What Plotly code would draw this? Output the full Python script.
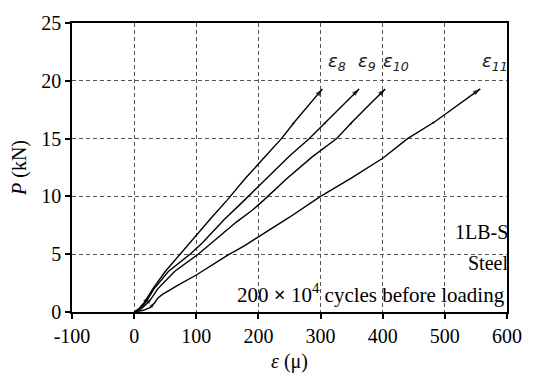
import plotly.graph_objects as go

# ---- data (strain in micro-strain, load in kN) ----
eps8_x = [0, 8, 16, 22, 30, 50, 74, 100, 125, 150, 178, 205, 237, 259, 280, 303]
eps8_y = [0, 0.3, 0.8, 1.3, 2.0, 3.5, 5.0, 6.7, 8.2, 9.7, 11.5, 13.1, 15.0, 16.5, 17.8, 19.3]

eps9_x = [0, 10, 18, 24, 32, 55, 90, 110, 145, 178, 212, 250, 282, 310, 336, 362]
eps9_y = [0, 0.3, 0.8, 1.3, 2.0, 3.5, 5.0, 6.0, 8.0, 9.7, 11.5, 13.5, 15.0, 16.5, 17.9, 19.3]

eps10_x = [0, 12, 22, 28, 38, 65, 103, 130, 165, 190, 209, 245, 286, 326, 352, 378, 404]
eps10_y = [0, 0.3, 0.8, 1.2, 2.0, 3.5, 5.0, 6.2, 7.8, 8.8, 9.7, 11.5, 13.4, 15.0, 16.5, 17.9, 19.3]

eps11_x = [0, 15, 26, 33, 38, 45, 70, 100, 150, 178, 200, 250, 300, 350, 400, 440, 485, 520, 557]
eps11_y = [0, 0.15, 0.4, 0.8, 1.2, 1.5, 2.3, 3.2, 4.9, 5.75, 6.5, 8.2, 10.0, 11.6, 13.3, 15.0, 16.5, 17.9, 19.3]

series = [
    ("ε", "8", eps8_x, eps8_y, 326),
    ("ε", "9", eps9_x, eps9_y, 375),
    ("ε", "10", eps10_x, eps10_y, 421),
    ("ε", "11", eps11_x, eps11_y, 580),
]
label_y = 21.6

x_ticks = [-100, 0, 100, 200, 300, 400, 500, 600]
y_ticks = [0, 5, 10, 15, 20, 25]

FONT = "Liberation Serif"
FS = 20

fig = go.Figure()
for sym, sub, xs, ys, lx in series:
    # the curve
    fig.add_trace(go.Scatter(
        x=xs, y=ys, mode="lines",
        line=dict(color="black", width=1.4),
        showlegend=False, hoverinfo="skip",
    ))
    # small direction marks along the curve and the end arrow
    for idx, sz in ((3, 6), (len(xs) - 3, 4), (len(xs) - 1, 8)):
        fig.add_trace(go.Scatter(
            x=xs[idx - 1:idx + 1], y=ys[idx - 1:idx + 1], mode="markers",
            marker=dict(symbol="arrow", size=[0, sz], color="black",
                        angleref="previous", line=dict(width=0)),
            showlegend=False, hoverinfo="skip",
        ))
    fig.add_annotation(x=lx, y=label_y, xref="x", yref="y",
                       text=f"<i>{sym}<sub>{sub}</sub></i>", showarrow=False,
                       font=dict(family="DejaVu Sans", size=18, color="#222"))

fig.add_annotation(x=1.0, xref="paper", xanchor="right", y=6.95, yref="y",
                   text="1LB-S", showarrow=False, xshift=3,
                   font=dict(family=FONT, size=FS, color="black"))
fig.add_annotation(x=1.0, xref="paper", xanchor="right", y=4.25, yref="y",
                   text="Steel", showarrow=False, xshift=3,
                   font=dict(family=FONT, size=FS, color="black"))
fig.add_annotation(x=1.0, xref="paper", xanchor="right", y=1.6, yref="y",
                   text="200 <b>×</b> 10<sup>4</sup> cycles before loading", showarrow=False,
                   xshift=0,
                   font=dict(family=FONT, size=21, color="black"))

axis_common = dict(
    showline=True, linecolor="black", linewidth=1.5, mirror=True,
    ticks="outside", ticklen=5, tickcolor="black", tickwidth=1.5,
    showgrid=True, gridcolor="#555", gridwidth=1, griddash="4px,3px",
    zeroline=False, ticklabeloverflow="allow",
    tickfont=dict(family=FONT, size=FS, color="black"),
)

fig.update_xaxes(range=[-100, 600], tickvals=x_ticks,
                 ticktext=["-100", "0", "100", "200", "300", "400", "500", "600"],
                 title=dict(text="<i>ε</i> (μ)", font=dict(family=FONT, size=FS, color="black"),
                            standoff=8),
                 **axis_common)
fig.update_yaxes(range=[0, 25], tickvals=y_ticks,
                 title=dict(text="<i>P</i> (kN)", font=dict(family=FONT, size=FS, color="black"),
                            standoff=9),
                 **axis_common)

fig.update_layout(
    width=534, height=381,
    margin=dict(l=72, r=14, t=17, b=65),
    paper_bgcolor="white", plot_bgcolor="white",
)

fig.write_html("out.html")
